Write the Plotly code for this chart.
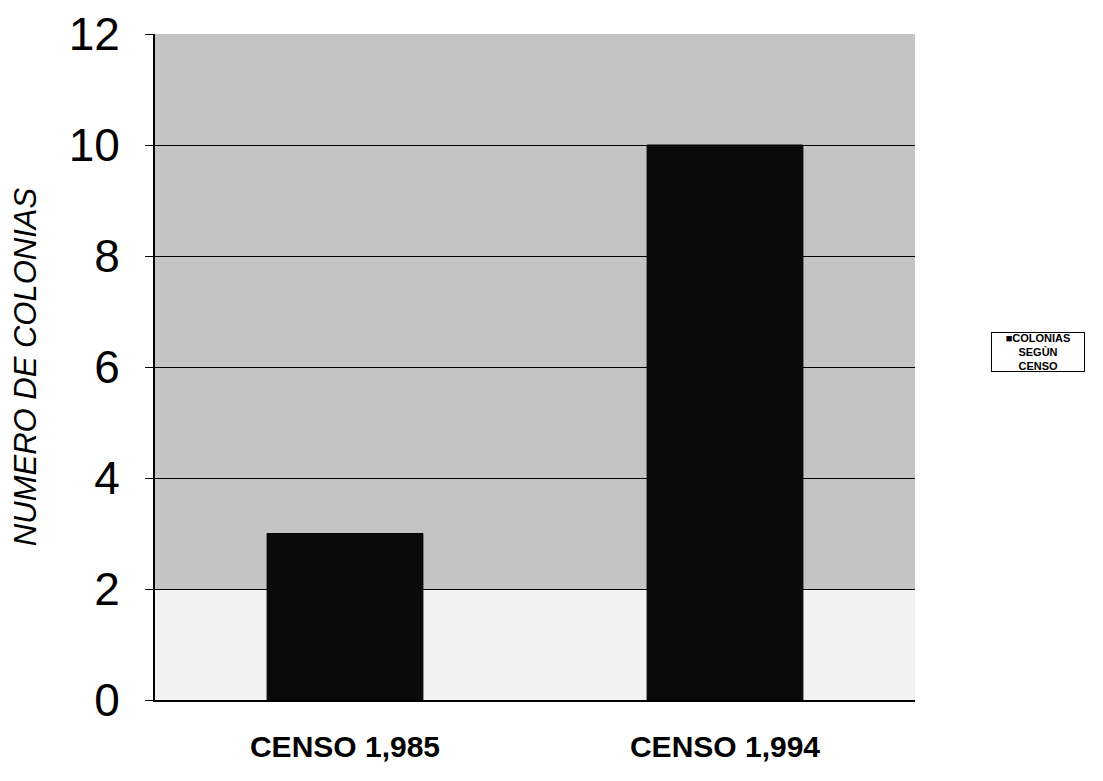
import plotly.graph_objects as go

categories = ["CENSO 1,985", "CENSO 1,994"]
values = [3, 10]
y_ticks = [0, 2, 4, 6, 8, 10, 12]
series_name = "COLONIAS<br>SEGÙN<br>CENSO"

fig = go.Figure()
fig.add_trace(go.Bar(
    x=categories, y=values, name=series_name,
    marker=dict(color="#0a0a0a", line=dict(color="#000000", width=1)),
    width=0.41, showlegend=False,
))

# lighter lower band of the plot background (as in the scanned original)
fig.add_shape(type="rect", xref="paper", yref="y", x0=0, x1=1, y0=0, y1=2,
              fillcolor="#f2f2f2", line=dict(width=0), layer="below")

fig.add_annotation(
    xref="paper", yref="paper", x=1.162, y=0.5225,
    xanchor="center", yanchor="middle",
    text="<b>■COLONIAS<br>SEGÙN<br>CENSO</b>", showarrow=False,
    font=dict(size=11, family="Liberation Sans, Arial, sans-serif", color="black"),
    bordercolor="black", borderwidth=1, bgcolor="white", borderpad=1,
    align="center", width=90, height=36,
)

fig.update_layout(
    width=1103, height=781,
    margin=dict(l=147, r=196, t=26, b=89),
    paper_bgcolor="white",
    plot_bgcolor="#c4c4c4",
    font=dict(family="Liberation Sans, Arial, sans-serif", color="black"),
    showlegend=False,
)
fig.update_yaxes(
    range=[0, 12], tickvals=y_ticks, ticktext=[str(v) for v in y_ticks],
    tickfont=dict(size=46), showgrid=True, gridcolor="black", gridwidth=1,
    showline=True, linecolor="black", linewidth=2, ticks="outside", ticklen=8,
    tickcolor="black", ticklabelstandoff=16,
    title=dict(text="<i>NUMERO DE COLONIAS</i>", font=dict(size=31), standoff=38),
    zeroline=False, automargin=False,
)
fig.update_xaxes(
    tickvals=categories, ticktext=["<b>" + c + "</b>" for c in categories],
    tickfont=dict(size=30), showline=True, linecolor="black", linewidth=2,
    mirror=False, ticks="", ticklabelstandoff=19, automargin=False,
)
fig.write_html("out.html")
